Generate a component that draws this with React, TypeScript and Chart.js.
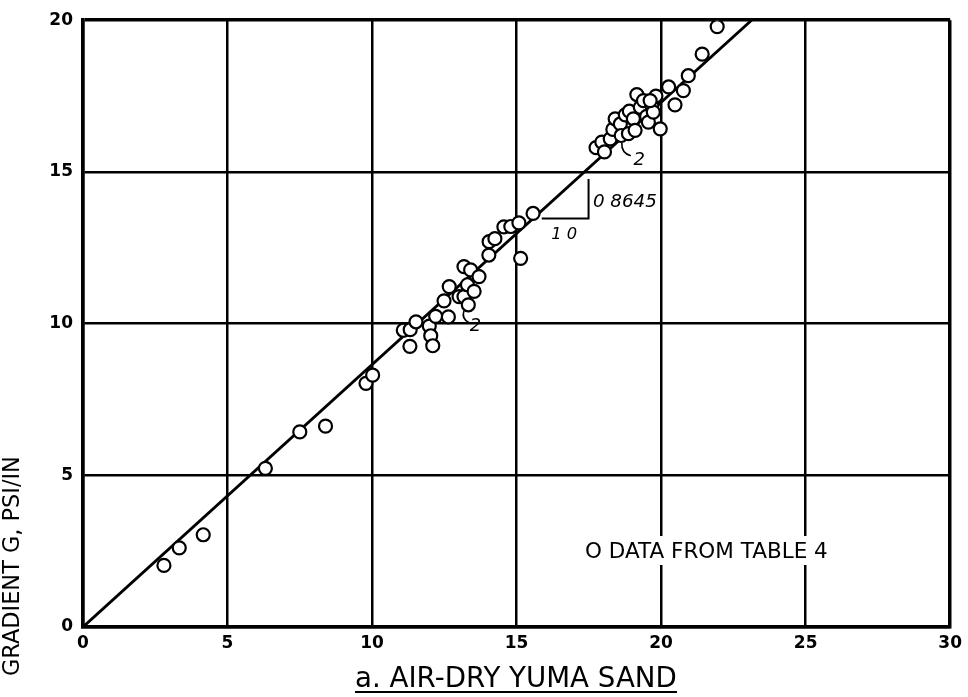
import React, { useEffect, useRef } from "react";
import { Chart, registerables } from "chart.js";

Chart.register(...registerables);

// Data (x: abscissa, y: gradient G, psi/in)
const pointX = [
  2.8, 3.33, 4.16, 6.31, 7.5, 8.39, 9.79, 10.02,
  11.08, 11.32, 11.31, 11.52, 11.98, 12.03, 12.1, 12.2, 12.64, 12.49, 12.67, 13.01, 13.18,
  13.33, 13.3, 13.53, 13.59, 13.18, 13.41, 13.7, 14.04,
  14.05, 14.25, 14.56, 14.8, 15.08, 15.57, 15.14,
  17.75, 17.95, 18.04, 18.24, 18.33, 18.41, 18.59, 18.62, 18.76, 18.87, 18.9, 19.04, 19.1,
  19.16, 19.28, 19.39, 19.5, 19.56, 19.68, 19.73, 19.82, 19.62, 19.97, 20.26, 20.48, 20.77,
  20.94, 21.42, 21.94,
];
const pointY = [
  2.03, 2.61, 3.04, 5.23, 6.43, 6.62, 8.03, 8.3,
  9.78, 9.8, 9.25, 10.06, 9.92, 9.6, 9.27, 10.24, 10.22, 10.75, 11.22, 10.89, 10.89,
  10.62, 11.28, 11.06, 11.6, 11.88, 11.77, 11.55, 12.26,
  12.7, 12.8, 13.19, 13.2, 13.32, 13.63, 12.15,
  15.8, 15.98, 15.66, 16.09, 16.4, 16.75, 16.58, 16.2, 16.88, 16.26, 17.0, 16.75, 16.37,
  17.55, 17.13, 17.35, 16.83, 16.64, 17.19, 16.97, 17.5, 17.35, 16.42, 17.8, 17.21, 17.68,
  18.17, 18.88, 19.79,
];

// Fitted line (slope 0.8645 through origin), endpoints
const fitX = [0, 23.13];
const fitY = [0, 20];

const xTitle = "a. AIR-DRY YUMA SAND";
const yTitle = "GRADIENT G, PSI/IN";
const legendText = "O DATA FROM TABLE 4";
const slopeText = "0 8645";
const runText = "1 0";
const countLabel = "2";

const FONT = "'DejaVu Sans', sans-serif";

function fitFont(ctx: CanvasRenderingContext2D, text: string, width: number, weight: string, style = "normal") {
  ctx.font = `${style} ${weight} 20px ${FONT}`;
  const w = ctx.measureText(text).width;
  const size = (20 * width) / w;
  ctx.font = `${style} ${weight} ${size}px ${FONT}`;
  return size;
}

const annotations = {
  id: "annotations",
  afterDraw(chart: any) {
    const ctx: CanvasRenderingContext2D = chart.ctx;
    const xs = chart.scales.x;
    const ys = chart.scales.y;
    const px = (v: number) => xs.getPixelForValue(v);
    const py = (v: number) => ys.getPixelForValue(v);
    ctx.save();
    ctx.fillStyle = "#000";
    ctx.strokeStyle = "#000";

    // slope triangle
    ctx.lineWidth = 2;
    ctx.beginPath();
    ctx.moveTo(px(15.87), py(13.46));
    ctx.lineTo(px(17.49), py(13.46));
    ctx.lineTo(px(17.49), py(14.77));
    ctx.stroke();
    fitFont(ctx, slopeText, 64, "normal", "italic");
    ctx.textAlign = "left";
    ctx.textBaseline = "middle";
    ctx.fillText(slopeText, px(17.64), py(14.0));
    fitFont(ctx, runText, 26, "normal", "italic");
    ctx.fillText(runText, px(16.2), py(12.93));

    // "2" count labels with leaders
    ctx.lineWidth = 1.6;
    ctx.beginPath();
    ctx.moveTo(px(13.18), py(10.42));
    ctx.quadraticCurveTo(px(13.08), py(10.15), px(13.36), py(10.03));
    ctx.stroke();
    ctx.beginPath();
    ctx.moveTo(px(18.64), py(15.95));
    ctx.quadraticCurveTo(px(18.62), py(15.62), px(18.95), py(15.53));
    ctx.stroke();
    ctx.font = `italic normal 18px ${FONT}`;
    ctx.textAlign = "center";
    ctx.fillText(countLabel, px(13.58), py(9.9));
    ctx.fillText(countLabel, px(19.24), py(15.38));

    // legend text box
    ctx.fillStyle = "#fff";
    ctx.fillRect(581, 536, 252, 29);
    ctx.fillStyle = "#000";
    fitFont(ctx, legendText, 243, "normal");
    ctx.textAlign = "left";
    ctx.fillText(legendText, 585, 552);

    // x title + underline
    fitFont(ctx, xTitle, 322, "normal");
    ctx.textAlign = "left";
    ctx.textBaseline = "alphabetic";
    ctx.fillText(xTitle, 355, 687);
    ctx.lineWidth = 2;
    ctx.beginPath();
    ctx.moveTo(355, 692);
    ctx.lineTo(677, 692);
    ctx.stroke();

    // y title (rotated)
    ctx.save();
    ctx.translate(19, 676);
    ctx.rotate(-Math.PI / 2);
    fitFont(ctx, yTitle, 220, "normal");
    ctx.textAlign = "left";
    ctx.textBaseline = "alphabetic";
    ctx.fillText(yTitle, 0, 0);
    ctx.restore();

    ctx.restore();
  },
};

export default function App() {
  const ref = useRef<HTMLCanvasElement>(null);
  useEffect(() => {
    if (!ref.current) return;
    const scatter = pointX.map((x, i) => ({ x, y: pointY[i] }));
    const fit = fitX.map((x, i) => ({ x, y: fitY[i] }));
    const tickFont = { family: FONT, size: 17, weight: "bold" as const };
    const chart = new Chart(ref.current, {
      type: "scatter",
      data: {
        datasets: [
          {
            type: "scatter",
            data: scatter,
            pointStyle: "circle",
            pointRadius: 6.5,
            pointBorderWidth: 2.2,
            pointBackgroundColor: "#fff",
            pointBorderColor: "#000",
            order: 0,
          },
          {
            type: "line",
            data: fit,
            borderColor: "#000",
            borderWidth: 2.8,
            pointRadius: 0,
            fill: false,
            order: 1,
          },
        ],
      },
      options: {
        animation: false,
        responsive: true,
        maintainAspectRatio: false,
        layout: { padding: { left: 0, top: 17, right: 17, bottom: 0 } },
        plugins: { legend: { display: false }, tooltip: { enabled: false } },
        scales: {
          x: {
            type: "linear",
            min: 0,
            max: 30,
            afterFit: (s: any) => { s.height = 70; },
            ticks: { stepSize: 5, color: "#000", padding: 6, font: tickFont },
            grid: {
              color: "#000",
              drawTicks: false,
              lineWidth: (c: any) => (c.tick && c.tick.value === 30 ? 3.5 : 2.5),
            },
            border: { display: true, color: "#000", width: 3.5 },
          },
          y: {
            type: "linear",
            min: 0,
            max: 20,
            afterFit: (s: any) => { s.width = 83; },
            ticks: { stepSize: 5, color: "#000", padding: 10, font: tickFont },
            grid: {
              color: "#000",
              drawTicks: false,
              lineWidth: (c: any) => (c.tick && c.tick.value === 20 ? 3.5 : 2.5),
            },
            border: { display: true, color: "#000", width: 3.5 },
          },
        },
      },
      plugins: [annotations],
    });
    return () => chart.destroy();
  }, []);
  return (
    <div style={{ position: "fixed", left: 0, top: 0, width: 968, height: 697, background: "#fff" }}>
      <canvas ref={ref} />
    </div>
  );
}
